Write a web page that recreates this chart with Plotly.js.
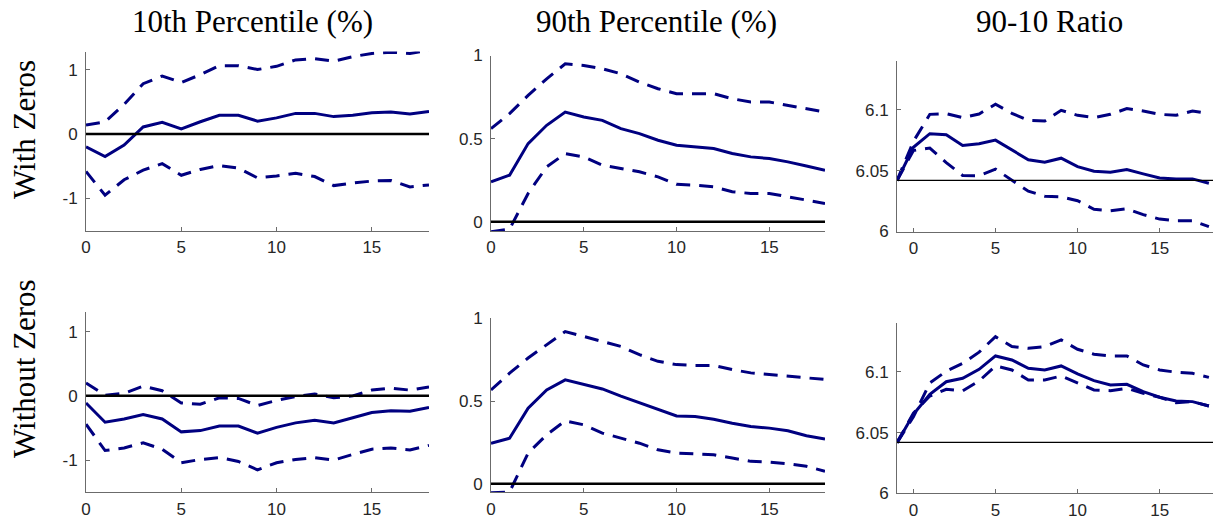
<!DOCTYPE html>
<html>
<head>
<meta charset="utf-8">
<script src="https://cdn.plot.ly/plotly-3.0.1.min.js"></script>
<style>html,body{margin:0;padding:0;background:#fff}#chart{width:1213px;height:517px}</style>
</head>
<body>
<div id="chart"></div>
<script>
// ---------- data ----------
const horizon = [0,1,2,3,4,5,6,7,8,9,10,11,12,13,14,15,16,17,18];
const horizonRatio = [-1,0,1,2,3,4,5,6,7,8,9,10,11,12,13,14,15,16,17,18];

const colTitles = ["10th Percentile (%)", "90th Percentile (%)", "90-10 Ratio"];
const rowTitles = ["With Zeros", "Without Zeros"];

// 10th percentile, with zeros
const p10WithMean  = [-0.20,-0.35,-0.17,0.11,0.18,0.08,0.19,0.29,0.29,0.20,0.25,0.32,0.32,0.27,0.29,0.33,0.34,0.31,0.35];
const p10WithUpper = [0.14,0.19,0.46,0.78,0.90,0.80,0.92,1.06,1.06,1.00,1.05,1.15,1.17,1.13,1.20,1.25,1.27,1.25,1.30];
const p10WithLower = [-0.58,-0.95,-0.71,-0.56,-0.46,-0.64,-0.55,-0.49,-0.53,-0.68,-0.65,-0.61,-0.66,-0.80,-0.76,-0.73,-0.72,-0.82,-0.79];
// 10th percentile, without zeros
const p10WithoutMean  = [-0.11,-0.41,-0.36,-0.29,-0.36,-0.56,-0.54,-0.47,-0.47,-0.58,-0.49,-0.42,-0.38,-0.42,-0.34,-0.26,-0.23,-0.24,-0.18];
const p10WithoutUpper = [0.20,0.01,0.04,0.15,0.08,-0.11,-0.13,-0.03,-0.04,-0.15,-0.07,-0.01,0.03,-0.03,0.00,0.09,0.12,0.09,0.14];
const p10WithoutLower = [-0.44,-0.85,-0.81,-0.73,-0.83,-1.04,-0.99,-0.96,-1.02,-1.15,-1.04,-0.99,-0.96,-1.00,-0.91,-0.83,-0.81,-0.84,-0.77];
// 90th percentile, with zeros
const p90WithMean  = [0.24,0.28,0.47,0.58,0.66,0.63,0.61,0.56,0.53,0.49,0.46,0.45,0.44,0.41,0.39,0.38,0.36,0.335,0.31];
const p90WithUpper = [0.56,0.65,0.76,0.86,0.95,0.94,0.92,0.89,0.84,0.80,0.77,0.77,0.77,0.74,0.72,0.72,0.70,0.68,0.66];
const p90WithLower = [-0.06,-0.045,0.17,0.33,0.41,0.39,0.34,0.32,0.30,0.27,0.225,0.22,0.21,0.18,0.17,0.17,0.15,0.13,0.11];
// 90th percentile, without zeros
const p90WithoutMean  = [0.245,0.275,0.457,0.567,0.628,0.60,0.573,0.53,0.49,0.447,0.41,0.406,0.39,0.366,0.346,0.336,0.32,0.29,0.27];
const p90WithoutUpper = [0.567,0.668,0.76,0.84,0.92,0.89,0.86,0.83,0.78,0.74,0.72,0.715,0.715,0.69,0.67,0.66,0.65,0.64,0.63];
const p90WithoutLower = [-0.055,-0.05,0.185,0.296,0.38,0.356,0.306,0.276,0.245,0.205,0.185,0.18,0.175,0.155,0.135,0.13,0.12,0.105,0.075];
// 90-10 ratio, with zeros
const ratioWithMean  = [6.0418,6.0692,6.0803,6.0795,6.0707,6.0720,6.0750,6.0671,6.0589,6.0569,6.0602,6.0533,6.0495,6.0486,6.0509,6.0473,6.0440,6.0432,6.0432,6.0396];
const ratioWithUpper = [6.0418,6.0740,6.0962,6.0968,6.0935,6.0965,6.1045,6.0970,6.0913,6.0907,6.0995,6.0954,6.0935,6.0962,6.1009,6.0989,6.0962,6.0954,6.0989,6.0968];
const ratioWithLower = [6.0418,6.0665,6.0685,6.0566,6.0460,6.0458,6.0512,6.0425,6.0331,6.0290,6.0285,6.0253,6.0183,6.0171,6.0186,6.0138,6.0102,6.0088,6.0088,6.0040];
// 90-10 ratio, without zeros
const ratioWithoutMean  = [6.0417,6.0650,6.0815,6.0919,6.0947,6.1021,6.1131,6.1098,6.1030,6.1016,6.1049,6.0983,6.0928,6.0892,6.0898,6.0837,6.0791,6.0760,6.0755,6.0719];
const ratioWithoutUpper = [6.0417,6.0630,6.0909,6.1005,6.1070,6.1162,6.1290,6.1208,6.1194,6.1208,6.1263,6.1186,6.1145,6.1131,6.1131,6.1057,6.1016,6.0997,6.0988,6.0955];
const ratioWithoutLower = [6.0417,6.0660,6.0801,6.0857,6.0843,6.0925,6.1049,6.1016,6.0933,6.0933,6.0966,6.0906,6.0851,6.0845,6.0865,6.0824,6.0791,6.0746,6.0755,6.0719];

const zeroLine = 0;
const ratioBaselineWith = 6.042;
const ratioBaselineWithout = 6.042;

// ---------- layout helpers ----------
const W = 1213, H = 517;
const dx = (a, b) => [a / W, b / W];
const dy = (top, bottom) => [1 - bottom / H, 1 - top / H];
const navy = '#000080';
const dashPat = '14px,9px';

const panels = [
  {x: horizon, m: p10WithMean, u: p10WithUpper, l: p10WithLower, base: zeroLine, baseW: 2.5,
   xd: dx(86, 429), yd: dy(51.5, 230.7), xr: [0, 18], yr: [-1.5, 1.28],
   yt: [-1, 0, 1], ytt: ['-1', '0', '1']},
  {x: horizon, m: p90WithMean, u: p90WithUpper, l: p90WithLower, base: zeroLine, baseW: 2.5,
   xd: dx(491, 825), yd: dy(55.5, 231), xr: [0, 18], yr: [-0.056, 1.0],
   yt: [0, 0.5, 1], ytt: ['0', '0.5', '1']},
  {x: horizonRatio, m: ratioWithMean, u: ratioWithUpper, l: ratioWithLower, base: ratioBaselineWith, baseW: 1.3,
   xd: dx(897, 1213), yd: dy(61, 231.5), xr: [-1, 18.25], yr: [6, 6.14],
   yt: [6, 6.05, 6.1], ytt: ['6', '6.05', '6.1']},
  {x: horizon, m: p10WithoutMean, u: p10WithoutUpper, l: p10WithoutLower, base: zeroLine, baseW: 2.5,
   xd: dx(86, 429), yd: dy(312.3, 492.3), xr: [0, 18], yr: [-1.5, 1.3],
   yt: [-1, 0, 1], ytt: ['-1', '0', '1']},
  {x: horizon, m: p90WithoutMean, u: p90WithoutUpper, l: p90WithoutLower, base: zeroLine, baseW: 2.5,
   xd: dx(491, 825), yd: dy(318.3, 492.3), xr: [0, 18], yr: [-0.052, 1.0],
   yt: [0, 0.5, 1], ytt: ['0', '0.5', '1']},
  {x: horizonRatio, m: ratioWithoutMean, u: ratioWithoutUpper, l: ratioWithoutLower, base: ratioBaselineWithout, baseW: 1.3,
   xd: dx(897, 1213), yd: dy(323.3, 493.3), xr: [-1, 18.25], yr: [6, 6.14],
   yt: [6, 6.05, 6.1], ytt: ['6', '6.05', '6.1']}
];

const traces = [];
const shapes = [];
const layout = {
  width: W, height: H,
  margin: {l: 0, r: 0, t: 0, b: 0},
  paper_bgcolor: '#ffffff', plot_bgcolor: '#ffffff',
  showlegend: false,
  annotations: []
};

const tickFont = {family: 'Liberation Sans, Arial, sans-serif', size: 17, color: '#262626'};
const axColor = '#6b6b6b';

panels.forEach((p, i) => {
  const n = i + 1;
  const xa = n === 1 ? 'x' : 'x' + n;
  const ya = n === 1 ? 'y' : 'y' + n;
  const xKey = n === 1 ? 'xaxis' : 'xaxis' + n;
  const yKey = n === 1 ? 'yaxis' : 'yaxis' + n;

  shapes.push({type: 'line', xref: xa + ' domain', yref: ya, x0: 0, x1: 1, y0: p.base, y1: p.base,
               line: {color: '#000000', width: p.baseW}, layer: 'above'});

  traces.push({x: p.x, y: p.u, xaxis: xa, yaxis: ya, mode: 'lines', hoverinfo: 'skip',
               line: {color: navy, width: 3, dash: dashPat}});
  traces.push({x: p.x, y: p.l, xaxis: xa, yaxis: ya, mode: 'lines', hoverinfo: 'skip',
               line: {color: navy, width: 3, dash: dashPat}});
  traces.push({x: p.x, y: p.m, xaxis: xa, yaxis: ya, mode: 'lines', hoverinfo: 'skip',
               line: {color: navy, width: 3}});

  layout[xKey] = {
    domain: p.xd, range: p.xr, anchor: ya,
    showline: true, linecolor: axColor, linewidth: 1,
    ticks: 'inside', ticklen: 4, tickcolor: axColor, tickwidth: 1,
    tickvals: [0, 5, 10, 15], ticktext: ['0', '5', '10', '15'],
    tickfont: tickFont, ticklabelstandoff: 1,
    showgrid: false, zeroline: false, fixedrange: true
  };
  layout[yKey] = {
    domain: p.yd, range: p.yr, anchor: xa,
    showline: true, linecolor: axColor, linewidth: 1,
    ticks: 'inside', ticklen: 4, tickcolor: axColor, tickwidth: 1,
    tickvals: p.yt, ticktext: p.ytt,
    tickfont: tickFont, ticklabelstandoff: 4,
    showgrid: false, zeroline: false, fixedrange: true
  };
});

layout.shapes = shapes;

const titleFont = {family: 'Liberation Serif, Times New Roman, serif', size: 31, color: '#000000'};
const titleX = [252, 656, 1049];
colTitles.forEach((t, i) => {
  layout.annotations.push({text: t, xref: 'paper', yref: 'paper', x: titleX[i] / W, y: 1 - 22 / H,
    xanchor: 'center', yanchor: 'middle', showarrow: false, font: titleFont});
});
const rowY = [130, 369];
rowTitles.forEach((t, i) => {
  layout.annotations.push({text: t, xref: 'paper', yref: 'paper', x: 24 / W, y: 1 - rowY[i] / H,
    xanchor: 'center', yanchor: 'middle', showarrow: false, textangle: -90, font: titleFont});
});

Plotly.newPlot('chart', traces, layout, {staticPlot: true, displayModeBar: false});
</script>
</body>
</html>
